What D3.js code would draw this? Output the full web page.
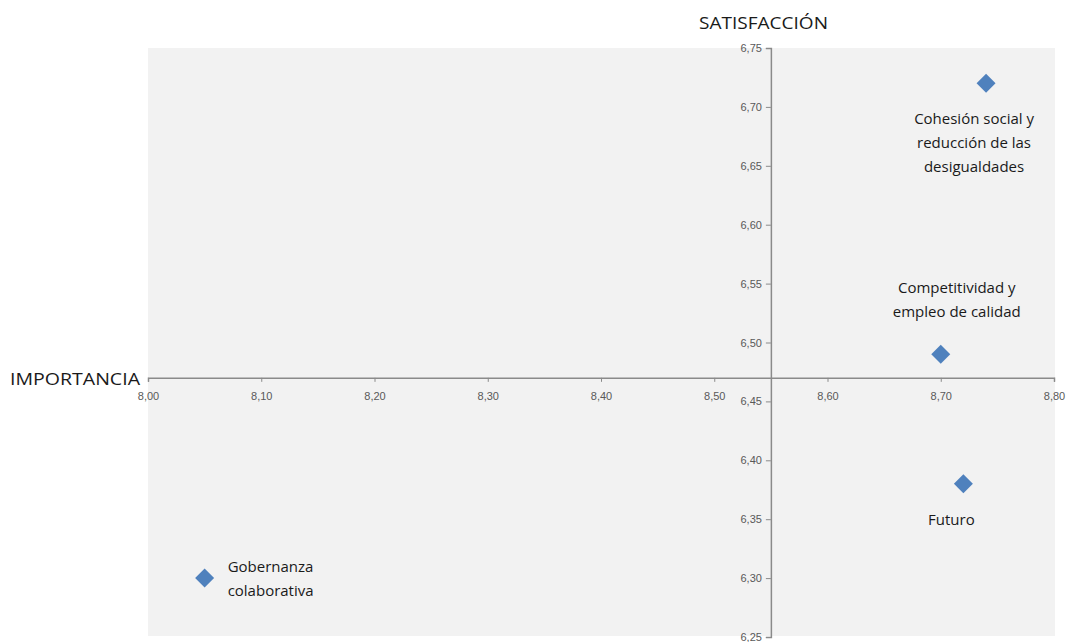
<!DOCTYPE html>
<html>
<head>
<meta charset="utf-8">
<script src="https://cdn.jsdelivr.net/npm/d3@7"></script>
<style>
  body { margin: 0; background: #fff; }
  svg { display: block; font-family: "Open Sans", "Liberation Sans", sans-serif; }
</style>
</head>
<body>
<svg id="chart" width="1069" height="642"></svg>
<script>
// --- data ---
const categories = [
  ["Cohesión social y", "reducción de las", "desigualdades"],
  ["Competitividad y", "empleo de calidad"],
  ["Futuro"],
  ["Gobernanza", "colaborativa"]
];
const importancia = [8.74, 8.70, 8.72, 8.05];
const satisfaccion = [6.72, 6.49, 6.38, 6.30];
const labelPos = ["below", "above", "below", "right"];
const xTicks = [8.0, 8.1, 8.2, 8.3, 8.4, 8.5, 8.6, 8.7, 8.8];
const yTicks = [6.25, 6.30, 6.35, 6.40, 6.45, 6.50, 6.55, 6.60, 6.65, 6.70, 6.75];
const xCross = 6.47;  // horizontal axis crosses here
const yCross = 8.55;  // vertical axis crosses here

const svg = d3.select("#chart");
const plot = { left: 148, right: 1055, top: 48, bottom: 637 };

const x = d3.scaleLinear().domain([8.0, 8.8]).range([plot.left, 1054]);
const y = d3.scaleLinear().domain([6.25, 6.75]).range([plot.bottom, plot.top]);

const es = d3.formatLocale({ decimal: ",", thousands: ".", grouping: [3], currency: ["", "€"] });
const fmt = es.format(".2f");

// background
svg.append("rect")
  .attr("x", plot.left).attr("y", plot.top)
  .attr("width", plot.right - plot.left).attr("height", plot.bottom - plot.top - 1)
  .attr("fill", "#f2f2f2");

// x axis
const xAxis = svg.append("g")
  .attr("transform", `translate(0,${y(xCross)})`)
  .call(d3.axisBottom(x).tickValues(xTicks).tickFormat(fmt).tickSize(4).tickPadding(10));

// y axis
const yAxis = svg.append("g")
  .attr("transform", `translate(${x(yCross)},0)`)
  .call(d3.axisLeft(y).tickValues(yTicks).tickFormat(fmt).tickSize(5).tickPadding(4));

[xAxis, yAxis].forEach(a => {
  a.select(".domain").attr("stroke", "#8a8a8a").attr("stroke-width", 1.5);
  a.selectAll(".tick line").attr("stroke", "#8a8a8a");
  a.selectAll(".tick text").attr("fill", "#595959").attr("font-size", 11);
});

// axis titles
svg.append("text")
  .attr("x", 10).attr("y", y(xCross) + 7)
  .attr("font-size", 17).attr("fill", "#1a1a1a")
  .attr("textLength", 130).attr("lengthAdjust", "spacingAndGlyphs")
  .text("IMPORTANCIA");
svg.append("text")
  .attr("x", 699).attr("y", 29)
  .attr("font-size", 17).attr("fill", "#1a1a1a")
  .attr("textLength", 129).attr("lengthAdjust", "spacingAndGlyphs")
  .text("SATISFACCIÓN");

// points
const pts = categories.map((c, i) => ({ lines: c, x: importancia[i], y: satisfaccion[i], pos: labelPos[i] }));

svg.append("g").selectAll("path")
  .data(pts)
  .join("path")
  .attr("d", d3.symbol(d3.symbolSquare, 180))
  .attr("transform", d => `translate(${x(d.x)},${y(d.y)}) rotate(45)`)
  .attr("fill", "#4f81bd");

const lineH = 24;
const labels = svg.append("g").attr("font-size", 15).attr("fill", "#1a1a1a");
pts.forEach(d => {
  const px = x(d.x), py = y(d.y);
  let tx, ty, anchor;
  if (d.pos === "below") { tx = px - 12; ty = py + 41; anchor = "middle"; }
  else if (d.pos === "above") { tx = px + 16; ty = py - 61; anchor = "middle"; }
  else { tx = px + 23; ty = py - 6; anchor = "start"; }
  const t = labels.append("text").attr("text-anchor", anchor);
  d.lines.forEach((l, k) => {
    t.append("tspan").attr("x", tx).attr("y", ty + k * lineH).text(l);
  });
});
</script>
</body>
</html>
